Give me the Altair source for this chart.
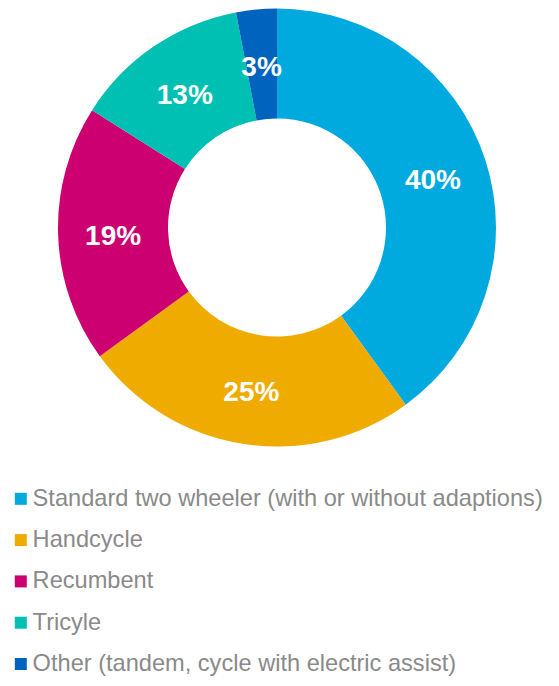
import altair as alt
import pandas as pd

categories = [
    "Standard two wheeler (with or without adaptions)",
    "Handcycle",
    "Recumbent",
    "Tricyle",
    "Other (tandem, cycle with electric assist)",
]
values = [40, 25, 19, 13, 3]
colors = ["#00AADF", "#F0AB00", "#CC0070", "#00BFB3", "#0063BE"]

df = pd.DataFrame({
    "category": categories,
    "value": values,
    "order": list(range(len(categories))),
    "label": [f"{v}%" for v in values],
})

cx, cy = 269, 219.5

base = alt.Chart(df).encode(
    theta=alt.Theta("value:Q", stack=True),
    order=alt.Order("order:Q"),
    x=alt.value(cx),
    y=alt.value(cy),
)

arcs = base.mark_arc(outerRadius=219, innerRadius=109).encode(
    color=alt.Color(
        "category:N",
        scale=alt.Scale(domain=categories, range=colors),
        sort=categories,
        legend=alt.Legend(
            title=None,
            orient="none",
            legendX=1,
            legendY=479,
            direction="vertical",
            symbolType="square",
            symbolSize=144,
            symbolStrokeWidth=0,
            labelFont="Liberation Sans",
            labelFontSize=23.6,
            labelColor="#8A8A8A",
            labelOffset=0,
            labelLimit=600,
            rowPadding=16.3,
        ),
    )
)

labels = base.mark_text(
    radius=164,
    font="Liberation Sans",
    fontSize=28,
    fontWeight="bold",
    color="white",
    align="center",
    baseline="middle",
    dy=4,
).encode(text="label:N")

chart = (
    alt.layer(arcs, labels)
    .properties(width=543, height=670, autosize=alt.AutoSizeParams(type="none"), padding=0)
    .configure_view(stroke=None)
)

chart.save("out.html", embed_options={"renderer": "svg", "actions": False})
